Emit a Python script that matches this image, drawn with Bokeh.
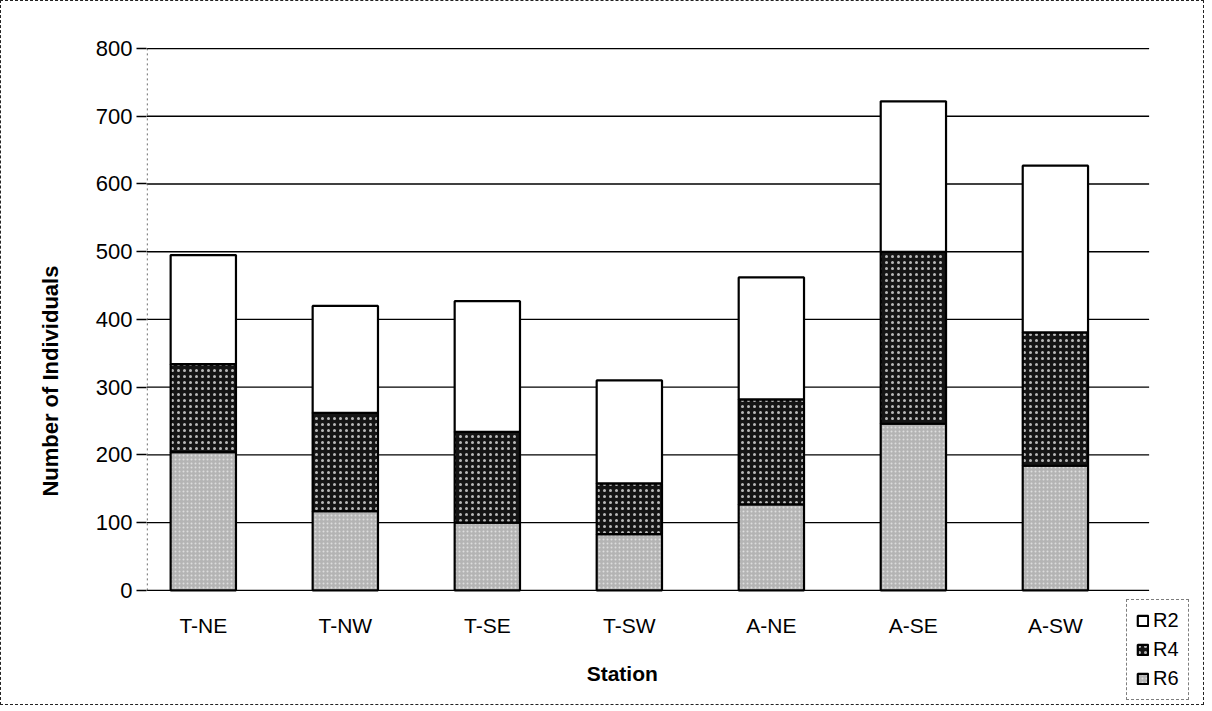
from bokeh.plotting import figure
from bokeh.models import Legend, LegendItem, ColumnDataSource, FixedTicker
from bokeh.embed import file_html
from bokeh.resources import INLINE
from bokeh.core.properties import value

stations = ["T-NE", "T-NW", "T-SE", "T-SW", "A-NE", "A-SE", "A-SW"]
r6 = [204, 117, 100, 83, 127, 246, 184]
r4 = [130, 145, 134, 75, 155, 254, 197]
r2 = [161, 158, 193, 152, 180, 222, 246]
y_ticks = [0, 100, 200, 300, 400, 500, 600, 700, 800]

FONT = "Liberation Sans"
xpos = list(range(len(stations)))
src = ColumnDataSource(dict(x=xpos, station=stations, R6=r6, R4=r4, R2=r2))

X0, X1 = -0.4, 7.05         # plot x range (category index units)
GX1 = 6.66                  # right end of the gridlines
Y0, Y1 = -167, 803

p = figure(x_range=(X0, X1), y_range=(Y0, Y1), width=1204, height=705,
           output_backend="svg", toolbar_location=None,
           min_border_left=145, min_border_top=45, min_border_right=1,
           min_border_bottom=3)
p.styles = {"border": "1px dashed #222"}
p.outline_line_color = None
p.xgrid.grid_line_color = None
p.ygrid.grid_line_color = None
p.xaxis.visible = False

# gridlines (only across the plotting area, as in the original)
p.segment(x0=[X0] * len(y_ticks), x1=[GX1] * len(y_ticks), y0=y_ticks, y1=y_ticks,
          line_color="black", line_width=1.3)
# dotted value axis line
p.segment(x0=[X0 + 0.005], x1=[X0 + 0.005], y0=[y_ticks[0]], y1=[y_ticks[-1]],
          line_color="#555", line_width=1, line_dash="2 3")

rs = p.vbar_stack(["R6", "R4", "R2"], x="x", width=0.46, source=src,
                  fill_color=["#b4b4b4", "#151515", "#ffffff"],
                  line_color="black", line_width=2.2,
                  hatch_pattern=["dot", "dot", " "],
                  hatch_color=["#ffffff", "#ffffff", "#ffffff"],
                  hatch_alpha=[0.55, 0.7, 0.0],
                  hatch_scale=[4, 6, 4], hatch_weight=[1, 1, 1])

# category labels and axis title
p.text(x="x", y=-52, text="station", source=src, text_font=value(FONT),
       text_font_size="21px", text_align="center", text_baseline="middle",
       text_color="black")
p.text(x=[2.95], y=[-123], text=["Station"], text_font=value(FONT),
       text_font_size="21px", text_font_style="bold", text_align="center",
       text_baseline="middle", text_color="black")

legend = Legend(items=[LegendItem(label="R2", renderers=[rs[2]]),
                       LegendItem(label="R4", renderers=[rs[1]]),
                       LegendItem(label="R6", renderers=[rs[0]])],
                location=(980, 3), orientation="vertical",
                label_text_font=FONT, label_text_font_size="20px",
                label_text_color="black",
                glyph_width=13, glyph_height=13, label_height=22,
                label_standoff=4, spacing=6, padding=9, margin=0,
                border_line_color="black", border_line_dash="3 2",
                border_line_width=1.2,
                background_fill_color="white")
p.add_layout(legend, "center")

p.yaxis.ticker = FixedTicker(ticks=y_ticks)
p.yaxis.axis_line_color = None
p.yaxis.major_tick_out = 10
p.yaxis.major_tick_in = 0
p.yaxis.minor_tick_line_color = None
p.yaxis.major_tick_line_color = "black"
p.yaxis.major_tick_line_width = 1.3
p.yaxis.major_label_text_font = FONT
p.yaxis.major_label_text_font_size = "22px"
p.yaxis.major_label_text_color = "black"
p.yaxis.major_label_standoff = 4
p.yaxis.axis_label = "Number  of  Individuals"
p.yaxis.axis_label_text_font = FONT
p.yaxis.axis_label_text_font_size = "22px"
p.yaxis.axis_label_text_font_style = "bold"
p.yaxis.axis_label_text_color = "black"
p.yaxis.axis_label_standoff = 30

open("out.html", "w").write(file_html(p, INLINE))
